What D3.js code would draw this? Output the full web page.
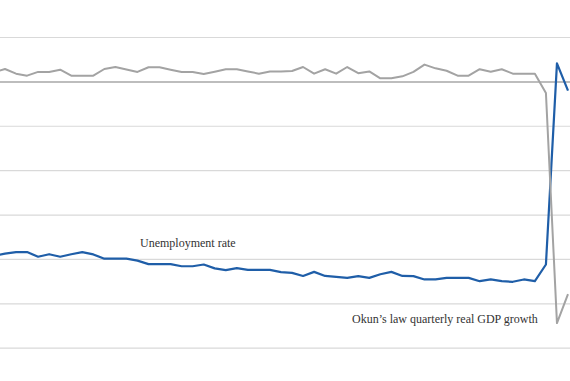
<!DOCTYPE html>
<html>
<head>
<meta charset="utf-8">
<script src="https://cdn.jsdelivr.net/npm/d3@7"></script>
<style>
  html, body { margin: 0; padding: 0; background: #ffffff; }
  svg { display: block; }
</style>
</head>
<body>
<script>
// Month index: -1 = first (partly off-chart) month, 50 = peak month, 51 = last month
const months = d3.range(-1, 52);

// Okun's law quarterly real GDP growth (%)
const gdpGrowth = [
  0.43, 0.58, 0.37, 0.28, 0.45, 0.45, 0.55, 0.28, 0.28, 0.28,
  0.58, 0.67, 0.56, 0.45, 0.66, 0.66, 0.55, 0.45, 0.45, 0.36,
  0.46, 0.57, 0.57, 0.47, 0.37, 0.47, 0.47, 0.49, 0.67, 0.37,
  0.57, 0.37, 0.67, 0.39, 0.47, 0.16, 0.16, 0.25, 0.45, 0.78,
  0.61, 0.50, 0.28, 0.28, 0.57, 0.46, 0.57, 0.37, 0.37, 0.37,
  -0.50, -10.87, -9.56
];

// Unemployment rate (%)
const unemployment = [
  4.77, 4.87, 4.95, 4.95, 4.71, 4.84, 4.71, 4.84, 4.95, 4.83,
  4.61, 4.61, 4.61, 4.51, 4.33, 4.33, 4.33, 4.22, 4.22, 4.31,
  4.11, 4.02, 4.12, 4.03, 4.03, 4.03, 3.92, 3.88, 3.72, 3.93,
  3.72, 3.67, 3.62, 3.71, 3.62, 3.81, 3.93, 3.72, 3.71, 3.54,
  3.54, 3.62, 3.62, 3.62, 3.45, 3.54, 3.45, 3.42, 3.54, 3.45,
  4.31, 14.67, 13.26
];

// Gridline values on the GDP-growth axis
const gridTicks = [-12, -10, -8, -6, -4, -2, 0, 2];

const labels = [
  { text: "Unemployment rate", x: 140, y: 246.5 },
  { text: "Okun\u2019s law quarterly real GDP growth", x: 352, y: 322.5 }
];

const W = 570, H = 381;
const svg = d3.select("body").append("svg")
  .attr("width", W).attr("height", H);

const x = d3.scaleLinear().domain([0, 51]).range([5, 568]);
const yG = d3.scaleLinear().domain([-12, 2]).range([348.2, 37.5]);
const yU = d3.scaleLinear().domain([0, 16]).range([348.2, 37.5]);

// gridlines
svg.append("g").selectAll("line")
  .data(gridTicks)
  .join("line")
  .attr("x1", 0).attr("x2", W)
  .attr("y1", d => yG(d)).attr("y2", d => yG(d))
  .attr("stroke", d => d === 0 ? "#bdbdbd" : "#d9d9d9")
  .attr("stroke-width", d => d === 0 ? 2 : 1.2);

const lineU = d3.line()
  .x((d, i) => x(months[i]))
  .y(d => yU(d));
const lineG = d3.line()
  .x((d, i) => x(months[i]))
  .y(d => yG(d));

svg.append("path")
  .datum(unemployment)
  .attr("d", lineU)
  .attr("fill", "none")
  .attr("stroke", "#1f5ea8")
  .attr("stroke-width", 2.2)
  .attr("stroke-linejoin", "round");

svg.append("path")
  .datum(gdpGrowth)
  .attr("d", lineG)
  .attr("fill", "none")
  .attr("stroke", "#a3a3a3")
  .attr("stroke-width", 2)
  .attr("stroke-linejoin", "round");

svg.append("g").selectAll("text")
  .data(labels)
  .join("text")
  .attr("x", d => d.x).attr("y", d => d.y)
  .attr("font-family", "'Liberation Serif', 'DejaVu Serif', serif")
  .attr("font-size", 12)
  .attr("fill", "#333333")
  .text(d => d.text);
</script>
</body>
</html>
